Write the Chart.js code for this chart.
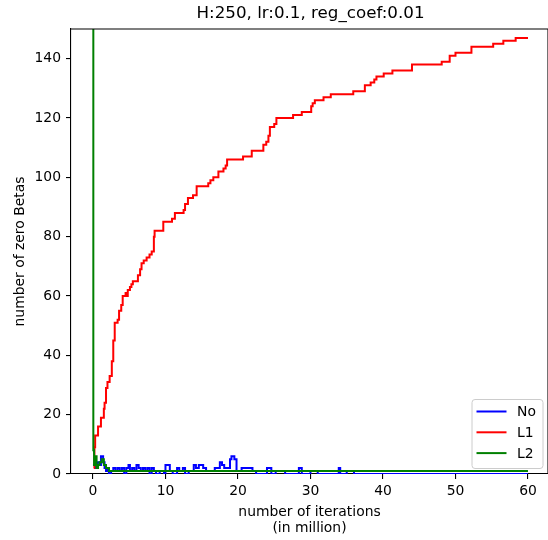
<!DOCTYPE html>
<html>
<head>
<meta charset="utf-8">
<script src="https://cdn.jsdelivr.net/npm/chart.js@4.4.1/dist/chart.umd.min.js"></script>
<style>
  html, body { margin: 0; padding: 0; background: #fff; }
  canvas { display: block; }
</style>
</head>
<body>
<canvas id="c" width="548" height="540"></canvas>
<script>
// ---- data ----
const chartTitle = "H:250, lr:0.1, reg_coef:0.01";
const xTitle = ["number of iterations", "(in million)"];
const yTitle = "number of zero Betas";
const xTicks = [0, 10, 20, 30, 40, 50, 60];
const yTicks = [0, 20, 40, 60, 80, 100, 120, 140];
const seriesNames = ["No", "L1", "L2"];

const noX = [0,0.3,0.6,0.9,1.1,1.4,1.6,1.8,2.0,2.2,
  2.5,2.8,3.1,3.4,3.7,4.0,4.3,4.6,4.9,5.1,
  5.4,5.7,6.0,6.3,6.6,6.9,7.2,7.5,7.8,8.1,
  8.4,8.7,9.2,9.8,10.0,10.6,11.0,11.6,11.9,12.4,
  12.7,13.2,13.9,14.2,14.6,15.2,15.6,16.8,17.5,17.8,
  18.1,18.9,19.1,19.5,19.8,20.5,22.0,22.5,24.0,24.6,
  25.2,26.5,28.4,28.8,30.0,31.0,33.9,34.1,35.0,36.0,
  60];
const noY = [3,2,4,3,6,4,2,1,2,0,
  1,2,1,2,1,2,0,2,3,1,
  2,1,3,2,1,2,1,2,0,2,
  1,0,1,0,3,1,0,2,1,2,
  0,1,3,2,3,2,1,2,4,3,
  2,5,6,5,1,2,1,0,2,0,
  1,0,2,0,1,0,2,0,1,0,
  0];

const l1X = [0.1,0.2,0.3,0.7,1.1,1.5,1.6,1.8,2.0,2.3,2.6,
  2.8,3.0,3.4,3.6,3.9,4.1,4.5,4.6,4.8,5.1,
  5.3,5.5,6.2,6.5,6.7,7.0,7.4,7.8,8.1,8.4,
  8.5,9.7,10.9,11.3,12.5,12.7,13.1,13.8,14.3,15.9,
  16.2,16.6,17.3,18.0,18.3,18.5,20.7,21.9,23.5,23.9,
  24.2,24.4,25.0,25.3,27.6,28.8,30.1,30.3,30.6,31.8,
  32.8,35.9,37.5,38.3,38.8,39.1,40.1,41.3,44.0,48.1,
  49.2,50.0,52.2,55.2,56.6,58.3,60];
const l1Y = [2,9,13,16,19,22,24,29,31,33,38,
  45,51,52,55,57,60,61,60,62,63,
  64,65,67,69,71,72,73,74,75,80,
  82,85,86,88,89,91,93,94,97,98,
  99,100,102,103,104,106,107,109,111,112,
  114,117,118,120,121,122,124,125,126,127,
  128,129,131,132,133,134,135,136,138,139,
  141,142,144,145,146,147,147];

const l2X = [0, 0.05, 0.15, 0.3, 0.5, 0.7, 0.9, 1.2, 1.5, 1.8, 2.2, 60];
const l2Y = [260, 8, 3, 6, 2, 3, 4, 5, 3, 2, 1, 1];

const colors = ["#0000ff", "#ff0000", "#008000"];

// ---- build datasets ----
const pts = (xs, ys) => xs.map((x, i) => ({ x: x, y: ys[i] }));
const seriesData = [pts(noX, noY), pts(l1X, l1Y), pts(l2X, l2Y)];

const FONT = "'DejaVu Sans', 'Liberation Sans', sans-serif";

const deco = {
  id: 'deco',
  afterDraw(chart) {
    const ctx = chart.ctx, a = chart.chartArea;
    ctx.save();
    ctx.strokeStyle = '#000';
    ctx.lineWidth = 1.1;
    ctx.beginPath();
    ctx.moveTo(a.left, a.top);
    ctx.lineTo(a.right, a.top);
    ctx.moveTo(a.right, a.top);
    ctx.lineTo(a.right, a.bottom);
    ctx.stroke();
    // title
    ctx.fillStyle = '#000';
    ctx.font = '16.7px ' + FONT;
    ctx.textAlign = 'center';
    ctx.textBaseline = 'middle';
    ctx.fillText(chartTitle, (a.left + a.right + 2) / 2, 14);
    // legend
    const rx = a.right - 5.5, by = a.bottom - 6;
    const w = 71, h = 69;
    const lx = rx - w, ty = by - h;
    ctx.beginPath();
    if (ctx.roundRect) ctx.roundRect(lx + 0.5, ty + 0.5, w, h, 3); else ctx.rect(lx + 0.5, ty + 0.5, w, h);
    ctx.fillStyle = 'rgba(255,255,255,0.8)';
    ctx.fill();
    ctx.strokeStyle = '#cccccc';
    ctx.lineWidth = 1;
    ctx.stroke();
    ctx.font = '13.9px ' + FONT;
    ctx.textAlign = 'left';
    chart.data.datasets.forEach((ds, i) => {
      const yy = ty + 12.5 + i * 20.8;
      ctx.strokeStyle = ds.borderColor;
      ctx.lineWidth = 2;
      ctx.beginPath();
      ctx.moveTo(lx + 5, yy);
      ctx.lineTo(lx + 35, yy);
      ctx.stroke();
      ctx.fillStyle = '#000';
      ctx.fillText(ds.label, lx + 45.5, yy + 1);
    });
    ctx.restore();
  }
};

new Chart(document.getElementById('c'), {
  type: 'line',
  data: {
    datasets: seriesNames.map((name, i) => ({
      label: name,
      data: seriesData[i],
      borderColor: colors[i],
      backgroundColor: colors[i],
      borderWidth: 2,
      pointRadius: 0,
      stepped: 'before',
      fill: false,
      tension: 0,
      order: 2 - i
    }))
  },
  options: {
    responsive: false,
    animation: false,
    devicePixelRatio: 1,
    layout: { padding: { top: 29, right: 0, left: 0, bottom: 0 } },
    plugins: {
      legend: { display: false },
      title: { display: false },
      tooltip: { enabled: false }
    },
    scales: {
      x: {
        type: 'linear',
        min: -3.03,
        max: 62.76,
        afterBuildTicks: s => { s.ticks = xTicks.map(v => ({ value: v })); },
        afterFit: s => { s.height = 66; },
        grid: { drawOnChartArea: false, drawTicks: true, tickLength: 5, color: '#000', lineWidth: 1.1 },
        border: { display: true, color: '#000', width: 1.1 },
        ticks: { color: '#000', padding: 4, maxRotation: 0, font: { family: FONT, size: 13.9 } },
        title: { display: true, text: xTitle, color: '#000', padding: { top: 0, bottom: 3 }, font: { family: FONT, size: 13.9 } }
      },
      y: {
        type: 'linear',
        min: 0,
        max: 150,
        afterBuildTicks: s => { s.ticks = yTicks.map(v => ({ value: v })); },
        afterFit: s => { s.width = 71; },
        grid: { drawOnChartArea: false, drawTicks: true, tickLength: 5, color: '#000', lineWidth: 1.1 },
        border: { display: true, color: '#000', width: 1.1 },
        ticks: { color: '#000', padding: 5, font: { family: FONT, size: 13.9 } },
        title: { display: true, text: yTitle, color: '#000', padding: { top: 12, bottom: 0 }, font: { family: FONT, size: 13.9 } }
      }
    }
  },
  plugins: [deco]
});
</script>
</body>
</html>
